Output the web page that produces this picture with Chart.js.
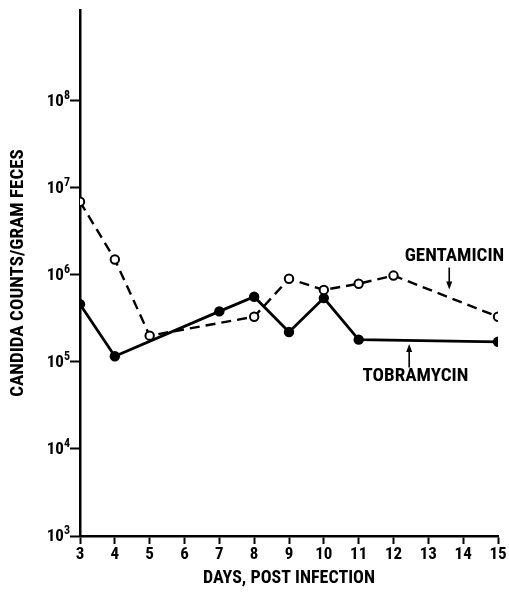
<!DOCTYPE html>
<html>
<head>
<meta charset="utf-8">
<script src="https://cdn.jsdelivr.net/npm/chart.js@4.4.1/dist/chart.umd.min.js"></script>
<style>
  body { margin: 0; background: #fff; }
  #wrap { width: 509px; height: 596px; }
</style>
</head>
<body>
<div id="wrap"><canvas id="candidaChart"></canvas></div>
<script>
// Data (days post infection vs counts per gram feces)
const gentaDays = [3, 4, 5, 8, 9, 10, 11, 12, 15];
const gentaCounts = [6.9e6, 1.5e6, 2.0e5, 3.3e5, 9.0e5, 6.7e5, 7.9e5, 9.8e5, 3.3e5];

const tobraDays = [3, 4, 7, 8, 9, 10, 11, 15];
const tobraCounts = [4.6e5, 1.16e5, 3.8e5, 5.6e5, 2.2e5, 5.4e5, 1.8e5, 1.7e5];

const dayTicks = [3, 4, 5, 6, 7, 8, 9, 10, 11, 12, 13, 14, 15];
const decadeExponents = [3, 4, 5, 6, 7, 8];

// series labels with arrows, in data coordinates
const seriesLabels = [
  { text: "GENTAMICIN", x: 13.75, y: 1.62e6 },
  { text: "TOBRAMYCIN", x: 12.63, y: 6.8e4 }
];
const labelArrows = [
  { x: 13.6, from: 1.21e6, to: 6.8e5 },
  { x: 12.45, from: 8.6e4, to: 1.6e5 }
];

const FONT = "'Roboto Condensed', 'Open Sans', sans-serif";

const toPoints = (xs, ys) => xs.map((d, i) => ({ x: d, y: ys[i] }));

// "10" with raised exponent for the log axis
const powerLabels = {
  id: "powerLabels",
  afterDraw(chart) {
    const { ctx, scales: { y } } = chart;
    ctx.save();
    ctx.fillStyle = "#000";
    decadeExponents.forEach((e) => {
      const py = y.getPixelForValue(Math.pow(10, e));
      const right = y.right - 10;
      ctx.font = "bold 12px " + FONT;
      const ew = ctx.measureText(String(e)).width;
      ctx.textAlign = "left";
      ctx.textBaseline = "alphabetic";
      ctx.fillText(String(e), right - ew, py - 2);
      ctx.font = "bold 17px " + FONT;
      ctx.textAlign = "right";
      ctx.fillText("10", right - ew, py + 5);
    });
    ctx.restore();
  }
};

// GENTAMICIN / TOBRAMYCIN labels and their arrows
const seriesNotes = {
  id: "seriesNotes",
  afterDraw(chart) {
    const { ctx, scales: { x, y } } = chart;
    ctx.save();
    ctx.fillStyle = "#000";
    ctx.strokeStyle = "#000";
    ctx.font = "bold 19px " + FONT;
    ctx.textAlign = "center";
    ctx.textBaseline = "middle";
    seriesLabels.forEach((l) => {
      ctx.fillText(l.text, x.getPixelForValue(l.x), y.getPixelForValue(l.y));
    });
    ctx.lineWidth = 1.6;
    labelArrows.forEach((a) => {
      const px = x.getPixelForValue(a.x);
      const y1 = y.getPixelForValue(a.from);
      const y2 = y.getPixelForValue(a.to);
      const dir = y2 > y1 ? 1 : -1;
      ctx.beginPath();
      ctx.moveTo(px, y1);
      ctx.lineTo(px, y2 - dir * 6);
      ctx.stroke();
      ctx.beginPath();
      ctx.moveTo(px, y2);
      ctx.lineTo(px - 3, y2 - dir * 8);
      ctx.lineTo(px + 3, y2 - dir * 8);
      ctx.closePath();
      ctx.fill();
    });
    ctx.restore();
  }
};

const chart = new Chart(document.getElementById("candidaChart"), {
  type: "line",
  data: {
    datasets: [
      {
        label: "Gentamicin",
        data: toPoints(gentaDays, gentaCounts),
        borderColor: "#000",
        borderWidth: 2.4,
        borderDash: [10, 6],
        pointRadius: 4.2,
        pointBorderWidth: 2,
        pointBackgroundColor: "#fff",
        pointBorderColor: "#000",
        tension: 0
      },
      {
        label: "Tobramycin",
        data: toPoints(tobraDays, tobraCounts),
        borderColor: "#000",
        borderWidth: 2.8,
        pointRadius: 5.2,
        pointBorderWidth: 0,
        pointBackgroundColor: "#000",
        tension: 0
      }
    ]
  },
  options: {
    responsive: true,
    maintainAspectRatio: false,
    animation: false,
    layout: { padding: { top: 10, right: 11, left: 0, bottom: 0 } },
    plugins: {
      legend: { display: false },
      tooltip: { enabled: false }
    },
    scales: {
      x: {
        type: "linear",
        min: 3,
        max: 15,
        afterBuildTicks: (scale) => {
          scale.ticks = dayTicks.map((v) => ({ value: v }));
        },
        afterFit: (scale) => { scale.height = 60; },
        grid: {
          drawOnChartArea: false,
          tickLength: 8,
          tickWidth: 2,
          tickColor: "#000"
        },
        border: { display: true, color: "#000", width: 2.5 },
        ticks: {
          color: "#000",
          padding: 1,
          maxRotation: 0,
          font: { family: FONT, size: 17, weight: "bold" }
        },
        title: {
          display: true,
          text: "DAYS, POST INFECTION",
          color: "#000",
          padding: { top: 0, bottom: 7 },
          font: { family: FONT, size: 18, weight: "bold" }
        }
      },
      y: {
        type: "logarithmic",
        min: 1e3,
        max: 1.1e9,
        afterBuildTicks: (scale) => {
          scale.ticks = decadeExponents.map((e) => ({ value: Math.pow(10, e) }));
        },
        afterFit: (scale) => { scale.width = 80; },
        grid: {
          drawOnChartArea: false,
          tickLength: 10,
          tickWidth: 2,
          tickColor: "#000"
        },
        border: { display: true, color: "#000", width: 2.5 },
        ticks: { display: false },
        title: {
          display: true,
          text: "CANDIDA COUNTS/GRAM FECES",
          color: "#000",
          padding: { top: 7, bottom: 0 },
          font: { family: FONT, size: 19, weight: "bold" }
        }
      }
    }
  },
  plugins: [powerLabels, seriesNotes]
});
</script>
</body>
</html>
